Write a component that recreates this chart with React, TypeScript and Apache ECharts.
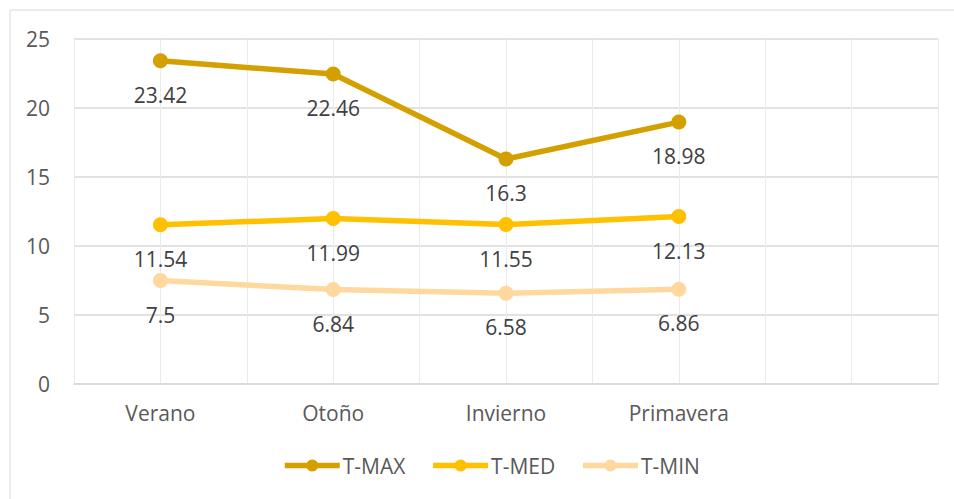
import React, { useEffect, useRef } from "react";
import * as echarts from "echarts";

const categories = ["Verano", "Otoño", "Invierno", "Primavera", ""];
const tMax = [23.42, 22.46, 16.3, 18.98];
const tMed = [11.54, 11.99, 11.55, 12.13];
const tMin = [7.5, 6.84, 6.58, 6.86];
const seriesNames = ["T-MAX", "T-MED", "T-MIN"];
const seriesColors = ["#D4A000", "#FFC000", "#FFD8A0"];
const yTicks = { min: 0, max: 25, interval: 5 };

const FONT = "'Open Sans', 'Noto Sans', sans-serif";
const FS = 21;

export default function App() {
  const ref = useRef<HTMLDivElement>(null);
  useEffect(() => {
    if (!ref.current) return;
    const chart = echarts.init(ref.current, undefined, { renderer: "svg" });
    const toPoints = (arr: number[]) => arr.map((v, i) => [i + 0.5, v]);
    const mk = (name: string, data: number[], color: string) => ({
      name,
      type: "line",
      data: toPoints(data),
      symbol: "circle",
      symbolSize: 15,
      lineStyle: { width: 5.5, color },
      itemStyle: { color },
      label: {
        show: true,
        position: "bottom",
        distance: 16,
        color: "#404040",
        fontFamily: FONT,
        fontSize: FS,
        formatter: (p: any) => String(p.value[1]),
      },
    });
    chart.setOption({
      animation: false,
      textStyle: { fontFamily: FONT },
      graphic: [
        {
          type: "rect",
          shape: { x: 10, y: 10, width: 1000, height: 600 },
          style: { fill: "none", stroke: "#d9d9d9", lineWidth: 1 },
          silent: true,
        },
      ],
      grid: { left: 74, right: 16, top: 39, bottom: 115 },
      xAxis: {
        type: "value",
        min: 0,
        max: categories.length,
        interval: 0.5,
        axisLine: { show: true, lineStyle: { color: "#d9d9d9", width: 1.5 } },
        axisTick: { show: false },
        splitLine: { show: true, lineStyle: { color: "#ebebeb", width: 1 } },
        axisLabel: {
          color: "#595959",
          fontFamily: FONT,
          fontSize: FS,
          margin: 18,
          showMinLabel: true,
          showMaxLabel: true,
          formatter: (v: number) => {
            const i = Math.floor(v);
            return Math.abs(v - i - 0.5) < 1e-6 ? categories[i] ?? "" : "";
          },
        },
      },
      yAxis: {
        type: "value",
        min: yTicks.min,
        max: yTicks.max,
        interval: yTicks.interval,
        axisLine: { show: false },
        axisTick: { show: false },
        splitLine: { lineStyle: { color: "#d9d9d9", width: 1.5 } },
        axisLabel: {
          color: "#595959",
          fontFamily: FONT,
          fontSize: FS,
          margin: 24,
        },
      },
      legend: {
        bottom: 18,
        left: 277,
        itemWidth: 55,
        itemHeight: 15,
        itemGap: 25,
        lineStyle: { width: 5.5 },
        textStyle: { color: "#595959", fontFamily: FONT, fontSize: FS, padding: [0, 0, 0, -2] },
        data: seriesNames,
      },
      series: [
        mk(seriesNames[0], tMax, seriesColors[0]),
        mk(seriesNames[1], tMed, seriesColors[1]),
        mk(seriesNames[2], tMin, seriesColors[2]),
      ],
    });
    return () => chart.dispose();
  }, []);
  return (
    <div
      ref={ref}
      style={{ width: 954, height: 499, position: "absolute", left: 0, top: 0, background: "#fff" }}
    />
  );
}
